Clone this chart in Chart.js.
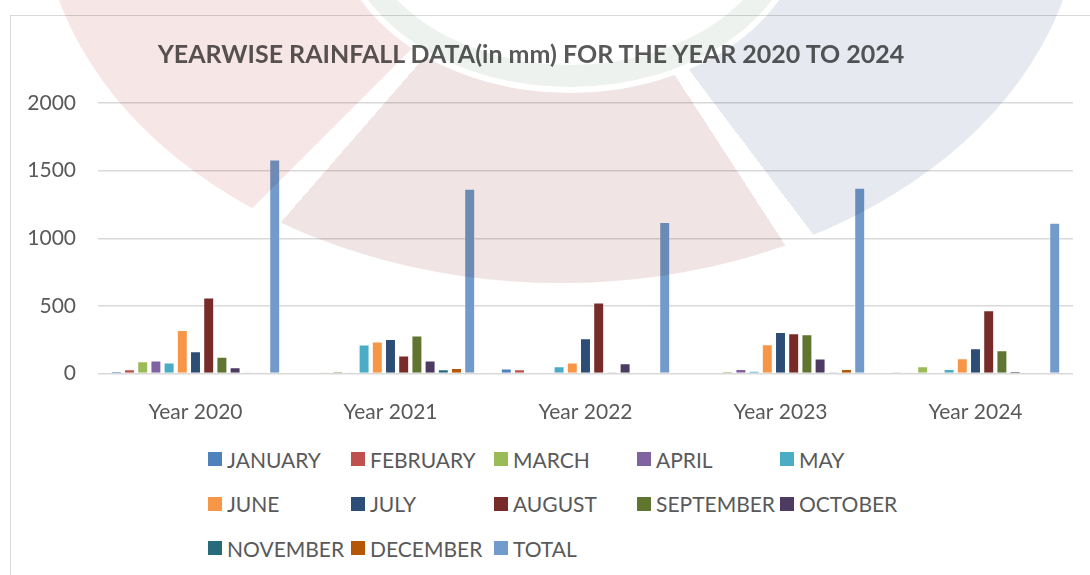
<!DOCTYPE html>
<html>
<head>
<meta charset="utf-8">
<script src="https://cdn.jsdelivr.net/npm/chart.js@4.4.1/dist/chart.umd.min.js"></script>
<style>
    body { margin: 0; background: #fff; }
    #wrap { position: relative; width: 1090px; height: 575px; overflow: hidden; background: #fff; font-family: Lato, 'Noto Sans', sans-serif; }
    .frame { position: absolute; left: 10px; top: 15px; right: -5px; bottom: -5px; border-left: 1px solid #d9d9d9; border-top: 1px solid #d9d9d9; }
    .chart-box { position: absolute; left: 0; top: 0; width: 1090px; height: 430px; }
    .title { position: absolute; left: 0; width: 1062px; top: 38px; text-align: center; font-weight: bold; font-size: 25px; color: #595959; white-space: nowrap; }
    #legend { position: absolute; left: 208px; top: 447px; display: grid; grid-template-columns: repeat(5, 143px); row-gap: 20.5px; }
    .item { display: flex; align-items: center; height: 24px; font-size: 21px; color: #595959; white-space: nowrap; }
    .item span.box { width: 14px; height: 14px; margin-right: 5px; flex: none; }
    /* faint logo watermark laid over the chart */
    .mark { position: absolute; left: 0; top: 0; width: 1090px; height: 575px; mix-blend-mode: multiply; pointer-events: none; z-index: 5; }
    .ring { position: absolute; border-radius: 50%; }
</style>
</head>
<body>
<div id="wrap">
    <div class="frame"></div>
    <div class="chart-box"><canvas id="rainChart"></canvas></div>
    <div class="title">YEARWISE RAINFALL DATA(in mm) FOR THE YEAR 2020 TO 2024</div>
    <div id="legend"></div>
    <div class="mark">
        <div class="ring" style="left:41px;top:-483px;width:1040px;height:766px;background:conic-gradient(from 0deg at 50% 50%, transparent 0deg 100deg, #e6e9f0 100deg 143deg, #fff 143deg 147deg, #f0e4e4 147deg 221deg, #fff 221deg 225deg, #f6e6e6 225deg 300deg, transparent 300deg);"></div>
        <div class="ring" style="left:334px;top:-253px;width:460px;height:334px;background:#edf2ee;border:6px solid #fff;"></div>
        <div class="ring" style="left:355px;top:-255px;width:430px;height:320px;background:#fff;"></div>
    </div>
</div>
<script>
// Rainfall in mm
const years = ['Year 2020', 'Year 2021', 'Year 2022', 'Year 2023', 'Year 2024'];

const january   = [15, 0, 37, 0, 10];
const february  = [32, 8, 32, 0, 8];
const march     = [91, 15, 0, 17, 54];
const april     = [96, 2, 0, 34, 0];
const may       = [81, 214, 54, 19, 34];
const june      = [322, 236, 81, 217, 113];
const july      = [165, 256, 261, 306, 187];
const august    = [562, 133, 525, 298, 468];
const september = [123, 281, 10, 291, 172];
const october   = [47, 96, 76, 111, 17];
const november  = [2, 32, 0, 10, 0];
const december  = [3, 41, 0, 34, 4];
const total     = [1583, 1366, 1120, 1373, 1114];

const seriesNames = ['JANUARY', 'FEBRUARY', 'MARCH', 'APRIL', 'MAY', 'JUNE', 'JULY',
    'AUGUST', 'SEPTEMBER', 'OCTOBER', 'NOVEMBER', 'DECEMBER', 'TOTAL'];
const seriesData = [january, february, march, april, may, june, july,
    august, september, october, november, december, total];
const seriesColors = ['#4F81BD', '#C0504D', '#9BBB59', '#8064A2', '#4BACC6', '#F79646', '#2C4D75',
    '#772C2A', '#5F7530', '#4D3B62', '#276A7C', '#B65708', '#729ACA'];

const yTicks = [0, 500, 1000, 1500, 2000];

const tickFont = { family: "Lato, 'Noto Sans', sans-serif", size: 21 };

const chart = new Chart(document.getElementById('rainChart'), {
    type: 'bar',
    data: {
        labels: years,
        datasets: seriesNames.map((name, i) => ({
            label: name,
            data: seriesData[i],
            backgroundColor: seriesColors[i],
            borderColor: 'rgba(255, 255, 255, 0.3)',
            borderWidth: 1,
            categoryPercentage: 0.88,
            barPercentage: 0.83
        }))
    },
    options: {
        responsive: true,
        maintainAspectRatio: false,
        animation: false,
        layout: {
            padding: { left: 20, right: 17, top: 103, bottom: 0 }
        },
        plugins: {
            legend: { display: false },
            title: { display: false },
            tooltip: { enabled: false }
        },
        scales: {
            y: {
                min: yTicks[0],
                max: yTicks[yTicks.length - 1],
                afterBuildTicks: function(scale) {
                    scale.ticks = yTicks.map(v => ({ value: v }));
                },
                afterFit: function(scale) {
                    scale.width = 78;
                },
                border: { display: false },
                grid: {
                    color: '#d9d9d9',
                    lineWidth: 1.5,
                    drawTicks: false
                },
                ticks: {
                    color: '#595959',
                    font: tickFont,
                    padding: 22,
                    callback: function(value) {
                        return String(value);
                    }
                }
            },
            x: {
                afterFit: function(scale) {
                    scale.height = 56.5;
                },
                border: { display: false },
                grid: { display: false },
                ticks: {
                    color: '#595959',
                    font: tickFont,
                    padding: 18,
                    maxRotation: 0
                }
            }
        }
    }
});

// HTML legend laid out in a fixed grid like the original
const legendEl = document.getElementById('legend');
chart.data.datasets.forEach(ds => {
    const item = document.createElement('div');
    item.className = 'item';
    const box = document.createElement('span');
    box.className = 'box';
    box.style.background = ds.backgroundColor;
    item.appendChild(box);
    item.appendChild(document.createTextNode(ds.label));
    legendEl.appendChild(item);
});
</script>
</body>
</html>
